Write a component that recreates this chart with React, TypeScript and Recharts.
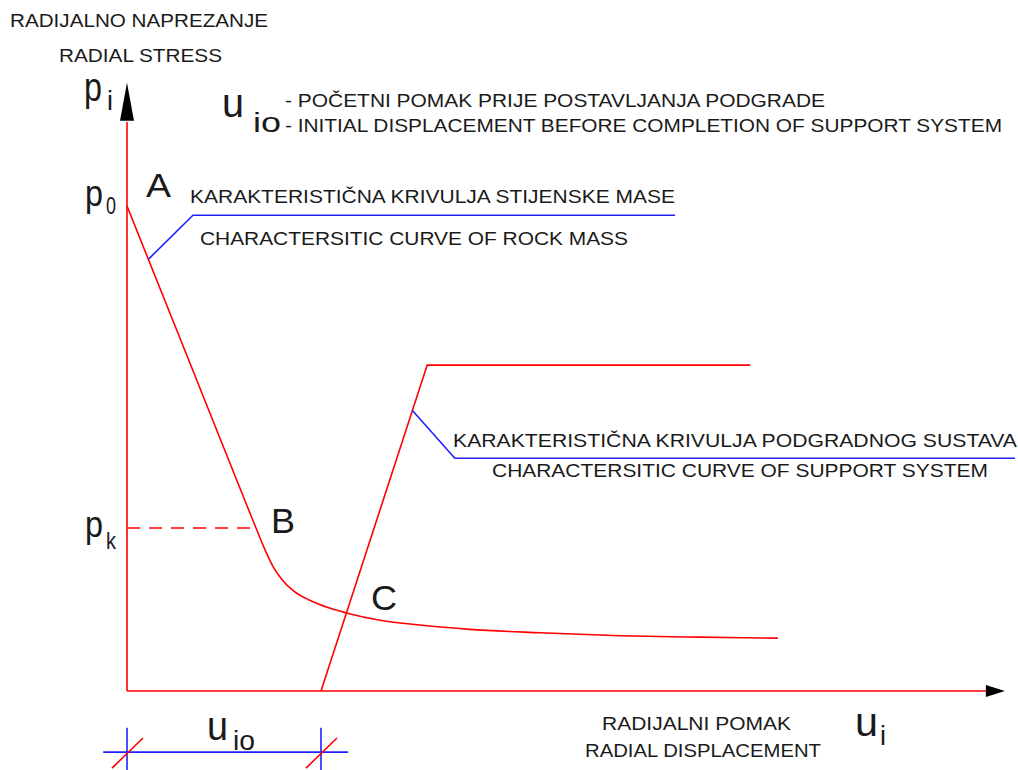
import { LineChart, Line, XAxis, YAxis, ReferenceDot } from 'recharts'

// values: p = radial stress (p0 = 100), u = radial displacement (uio = 40)
const rockCurve = [
  { u: 0, p: 100 },
  { u: 13.3, p: 66.8 },
  { u: 24.7, p: 38.3 },
  { u: 26.6, p: 33.6 },
  { u: 28.6, p: 28.8 },
  { u: 30.2, p: 25.5 },
  { u: 32.1, p: 22.8 },
  { u: 34.4, p: 20.6 },
  { u: 37.7, p: 18.7 },
  { u: 41.4, p: 17.2 },
  { u: 45.2, p: 16.1 },
  { u: 52.2, p: 14.6 },
  { u: 60.4, p: 13.6 },
  { u: 70.7, p: 12.7 },
  { u: 85.2, p: 12.0 },
  { u: 101.6, p: 11.4 },
  { u: 118.1, p: 11.1 },
  { u: 134.2, p: 10.9 },
]

const supportCurve = [
  { u: 40, p: 0 },
  { u: 61.9, p: 67.2 },
  { u: 128.5, p: 67.2 },
]

const pkLine = [
  { u: 0, p: 33.6 },
  { u: 26.6, p: 33.6 },
]

const rockLeader = [
  { u: 4.5, p: 89.1 },
  { u: 13.6, p: 98.1 },
  { u: 113.0, p: 98.1 },
]

const supportLeader = [
  { u: 58.8, p: 57.9 },
  { u: 67.6, p: 48.0 },
  { u: 183.1, p: 48.0 },
]

// axes
const axisV = [
  { u: 0, p: 0 },
  { u: 0, p: 117.3 },
]
const axisH = [
  { u: 0, p: 0 },
  { u: 177.3, p: 0 },
]

// dimension line for uio below the axis
const dimLine = [
  { u: -4.9, p: -12.6 },
  { u: 45.6, p: -12.6 },
]
const dimTickA = [
  { u: 0, p: -7.6 },
  { u: 0, p: -16.3 },
]
const dimTickB = [
  { u: 40, p: -7.6 },
  { u: 40, p: -16.3 },
]
const slashA = [
  { u: -3.1, p: -15.9 },
  { u: 3.3, p: -9.7 },
]
const slashB = [
  { u: 36.9, p: -15.9 },
  { u: 43.3, p: -9.7 },
]

const RED = '#ff0000'
const BLUE = '#2020ff'
const INK = '#1a1a1a'
const FONT = '"Liberation Sans", Arial, sans-serif'

// text placed at data coordinates (left edge, baseline)
const notes = [
  { text: 'RADIJALNO NAPREZANJE', u: -24.12, p: 136.9, size: 18.5, len: 258 },
  { text: 'RADIAL STRESS', u: -14.02, p: 129.7, size: 18.5, len: 163 },
  { text: 'p', u: -8.87, p: 121.6, size: 40, len: 18 },
  { text: 'i', u: -4.12, p: 119.8, size: 28, len: 6 },
  { text: 'u', u: 19.59, p: 118.35, size: 40, len: 22 },
  { text: 'io', u: 25.98, p: 115.2, size: 28, len: 28 },
  { text: '- POČETNI POMAK PRIJE POSTAVLJANJA PODGRADE', u: 32.58, p: 120.4, size: 18.5, len: 540 },
  { text: '- INITIAL DISPLACEMENT BEFORE COMPLETION OF SUPPORT SYSTEM', u: 32.58, p: 115.26, size: 18.5, len: 717 },
  { text: 'p', u: -8.66, p: 100.0, size: 36, len: 18 },
  { text: '0', u: -4.33, p: 98.35, size: 24, len: 10 },
  { text: 'A', u: 3.92, p: 101.86, size: 34, len: 25 },
  { text: 'KARAKTERISTIČNA KRIVULJA STIJENSKE MASE', u: 12.99, p: 100.6, size: 18.5, len: 485 },
  { text: 'CHARACTERSITIC CURVE OF ROCK MASS', u: 15.05, p: 91.96, size: 18.5, len: 428 },
  { text: 'KARAKTERISTIČNA KRIVULJA PODGRADNOG SUSTAVA', u: 67.22, p: 50.31, size: 18.5, len: 564 },
  { text: 'CHARACTERSITIC CURVE OF SUPPORT SYSTEM', u: 75.26, p: 44.12, size: 18.5, len: 496 },
  { text: 'p', u: -8.66, p: 31.75, size: 36, len: 18 },
  { text: 'k', u: -4.33, p: 29.28, size: 24, len: 10 },
  { text: 'B', u: 29.69, p: 32.58, size: 35, len: 24 },
  { text: 'C', u: 50.31, p: 16.7, size: 35, len: 26 },
  { text: 'RADIJALNI POMAK', u: 97.94, p: -8.04, size: 18.5, len: 189 },
  { text: 'RADIAL DISPLACEMENT', u: 94.43, p: -13.61, size: 18.5, len: 236 },
  { text: 'u', u: 150.1, p: -9.28, size: 40, len: 23 },
  { text: 'i', u: 155.26, p: -11.13, size: 28, len: 6 },
  { text: 'u', u: 16.49, p: -10.1, size: 40, len: 21 },
  { text: 'io', u: 21.86, p: -12.16, size: 28, len: 22 },
]

// arrow tips of the two axes
const tipV = { u: 0, p: 125.4 }
const tipH = { u: 181.0, p: 0 }

// 4.85 px per unit, origin at (127, 691) of the 1018x770 canvas
const X_DOMAIN = [-26.186, 183.711]
const Y_DOMAIN = [-16.289, 142.474]

const seg = (data: any[], color: string, key: string, dash?: string) => (
  <Line
    key={key}
    data={data}
    dataKey="p"
    type="linear"
    stroke={color}
    strokeWidth={1.6}
    strokeDasharray={dash}
    dot={false}
    activeDot={false}
    isAnimationActive={false}
  />
)

export default function App() {
  return (
    <div style={{ position: 'absolute', left: 0, top: 0, background: '#fff' }}>
      <LineChart width={1018} height={770} margin={{ top: 0, right: 0, bottom: 0, left: 0 }}>
        <XAxis hide type="number" dataKey="u" domain={X_DOMAIN} allowDataOverflow />
        <YAxis hide type="number" domain={Y_DOMAIN} allowDataOverflow />

        {seg(axisV, RED, 'axisV')}
        {seg(axisH, RED, 'axisH')}
        {seg(pkLine, RED, 'pk', '13 9')}
        <Line
          data={rockCurve}
          dataKey="p"
          type="monotone"
          stroke={RED}
          strokeWidth={1.6}
          dot={false}
          activeDot={false}
          isAnimationActive={false}
        />
        {seg(supportCurve, RED, 'support')}
        {seg(rockLeader, BLUE, 'rockLeader')}
        {seg(supportLeader, BLUE, 'supportLeader')}
        {seg(dimLine, BLUE, 'dim')}
        {seg(dimTickA, BLUE, 'tickA')}
        {seg(dimTickB, BLUE, 'tickB')}
        {seg(slashA, RED, 'slashA')}
        {seg(slashB, RED, 'slashB')}

        <ReferenceDot
          x={tipV.u}
          y={tipV.p}
          ifOverflow="visible"
          shape={(props: any) => (
            <path
              d={`M${props.cx},${props.cy} L${props.cx - 7},${props.cy + 38} L${props.cx + 7},${props.cy + 38} Z`}
              fill="#000"
            />
          )}
        />
        <ReferenceDot
          x={tipH.u}
          y={tipH.p}
          ifOverflow="visible"
          shape={(props: any) => (
            <path
              d={`M${props.cx},${props.cy} L${props.cx - 19},${props.cy - 6} L${props.cx - 19},${props.cy + 6} Z`}
              fill="#000"
            />
          )}
        />

        {notes.map((n, i) => (
          <ReferenceDot
            key={`note-${i}`}
            x={n.u}
            y={n.p}
            ifOverflow="visible"
            shape={(props: any) => (
              <text
                x={props.cx}
                y={props.cy}
                fontSize={n.size}
                fontFamily={FONT}
                fill={INK}
                textLength={n.len}
                lengthAdjust="spacingAndGlyphs"
              >
                {n.text}
              </text>
            )}
          />
        ))}
      </LineChart>
    </div>
  )
}
